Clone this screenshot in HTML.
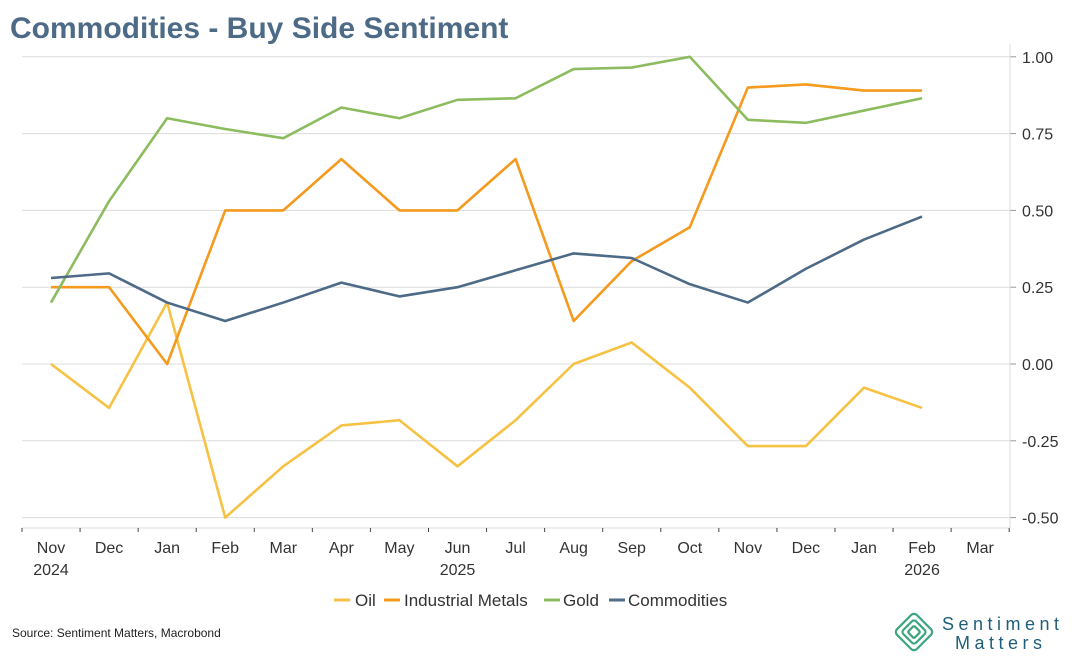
<!DOCTYPE html>
<html><head><meta charset="utf-8"><style>
body{margin:0;background:#fff;width:1072px;height:660px;overflow:hidden;font-family:"Liberation Sans",sans-serif}
</style></head><body>
<svg width="1072" height="660" viewBox="0 0 1072 660">
<text x="10" y="38" font-size="30" font-weight="bold" fill="#4d6a87">Commodities - Buy Side Sentiment</text>
<g id="grid"></g>
<g id="axes"></g>
<g id="series"></g>
<g font-size="17" fill="#333">
<g><line x1="334" y1="600" x2="350" y2="600" stroke="#f6c244" stroke-width="3"/><text x="355" y="606">Oil</text></g>
<g><line x1="384" y1="600" x2="400" y2="600" stroke="#f49a1e" stroke-width="3"/><text x="404" y="606">Industrial Metals</text></g>
<g><line x1="544" y1="600" x2="560" y2="600" stroke="#8cbc5f" stroke-width="3"/><text x="563" y="606">Gold</text></g>
<g><line x1="609" y1="600" x2="625" y2="600" stroke="#4d6a87" stroke-width="3"/><text x="628" y="606">Commodities</text></g>
</g>
<text x="12" y="637" font-size="12" fill="#222">Source: Sentiment Matters, Macrobond</text>
<g>
<g transform="translate(914,632) rotate(45)" fill="none" stroke="#3aa57f" stroke-width="2.2">
<rect x="-14" y="-14" width="28" height="28" rx="4"/><rect x="-9" y="-9" width="18" height="18" rx="3"/><rect x="-4.5" y="-4.5" width="9" height="9" rx="1.5"/></g>
<text x="942" y="630" font-size="18" fill="#1f5e7a" letter-spacing="4.5">Sentiment</text>
<text x="955" y="649" font-size="18" fill="#1f5e7a" letter-spacing="4.5">Matters</text>
</g>
</svg>
<script>
const months=["Nov","Dec","Jan","Feb","Mar","Apr","May","Jun","Jul","Aug","Sep","Oct","Nov","Dec","Jan","Feb","Mar"];
const years={0:"2024",7:"2025",15:"2026"};
const yTicks=[1.00,0.75,0.50,0.25,0.00,-0.25,-0.50];
const oil=[0.00,-0.143,0.20,-0.50,-0.333,-0.20,-0.183,-0.333,-0.183,0.00,0.07,-0.077,-0.267,-0.267,-0.077,-0.143];
const metals=[0.25,0.25,0.00,0.50,0.50,0.667,0.50,0.50,0.667,0.14,0.335,0.445,0.90,0.91,0.89,0.89];
const gold=[0.20,0.53,0.80,0.765,0.735,0.835,0.80,0.86,0.865,0.96,0.965,1.00,0.795,0.785,0.825,0.865];
const commodities=[0.28,0.295,0.20,0.14,0.20,0.265,0.22,0.25,0.305,0.36,0.345,0.26,0.20,0.31,0.405,0.48];
const NS="http://www.w3.org/2000/svg";
const X=i=>51+i*58.07;
const Y=v=>364-v*307.2;
function mk(tag,attrs,parent){const e=document.createElementNS(NS,tag);for(const k in attrs)e.setAttribute(k,attrs[k]);document.getElementById(parent).appendChild(e);return e;}
yTicks.forEach(v=>{
 const g=mk("line",{x1:22,x2:1010,y1:Y(v),y2:Y(v),stroke:"#dcdcdc","stroke-width":1},"grid");
 
 
 const t=mk("line",{x1:1010,x2:1016,y1:Y(v),y2:Y(v),stroke:"#999"},"axes");
 
 
 const l=mk("text",{x:1022,y:Y(v)+6,"font-size":16,fill:"#333"},"axes");
 l.textContent=v.toFixed(2);
 
 
});
let ax=mk("line",{x1:1010,x2:1010,y1:44,y2:528,stroke:"#dcdcdc"},"axes");


ax=mk("line",{x1:22,x2:1010,y1:528,y2:528,stroke:"#dcdcdc"},"axes");


for(let i=0;i<=months.length;i++){
 const tx=X(i)-29;
 const t=mk("line",{x1:tx,x2:tx,y1:528,y2:532,stroke:"#444"},"axes");
 
 
}
months.forEach((m,i)=>{
 const l=mk("text",{x:X(i),y:553,"font-size":16,fill:"#333","text-anchor":"middle"},"axes");
 l.textContent=m;
 
 
 if(years[i]){const y=mk("text",{x:X(i),y:575,"font-size":16,fill:"#333","text-anchor":"middle"},"axes");
 y.textContent=years[i];
 
 }
});
[[oil,"#f6c244","oil-line"],[metals,"#f49a1e","industrial-metals-line"],[gold,"#8cbc5f","gold-line"],[commodities,"#4d6a87","commodities-line"]].forEach(([d,c,n])=>{
 const p=mk("polyline",{points:d.map((v,i)=>X(i)+","+Y(v)).join(" "),fill:"none",stroke:c,"stroke-width":2.6,"stroke-linejoin":"round"},"series");
 
 
});
</script>
</body></html>
